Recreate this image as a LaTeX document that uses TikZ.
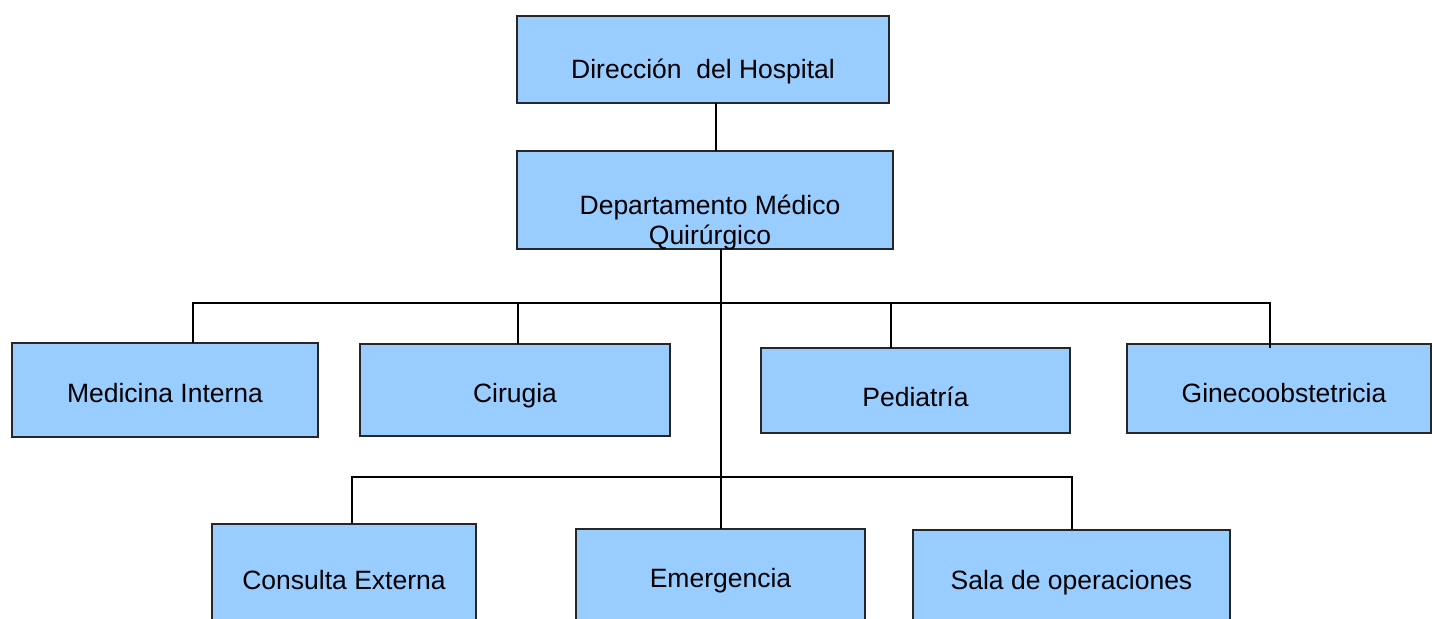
\documentclass[tikz,border=0pt]{standalone}
\usepackage{fontspec}
\setmainfont{Liberation Sans}
\usepackage{tikz}
\usetikzlibrary{calc}
\definecolor{boxblue}{RGB}{153,204,255}

\begin{document}
\begin{tikzpicture}[x=0.5pt,y=-0.5pt,
    unit/.style={draw=black!85, line width=0.75pt, fill=boxblue, rectangle, inner sep=0pt, outer sep=0pt},
    link/.style={line width=1pt, black},
    every label/.style={font=\fontsize{13.25pt}{15pt}\selectfont, align=center, inner sep=0pt}]
                      \useasboundingbox (0,0) rectangle (1432,618);
                      \fill[white] (0,0) rectangle (1432,618);
                      \clip (0,0) rectangle (1432,618);
                      % top levels
                      \node[unit, minimum width=186pt, minimum height=43.5pt, label={[yshift=-5.75pt]center:Dirección\ \ del Hospital}] (dir) at (703,59.5) {};
                      \node[unit, minimum width=188pt, minimum height=49pt, label={[xshift=2.5pt, yshift=-11pt]center:Departamento Médico\\Quirúrgico}] (dep) at (705,200) {};
                      % services
                      \node[unit, minimum width=153pt, minimum height=47pt, label={[yshift=-1.5pt]center:Medicina Interna}] (med) at (165,390) {};
                      \node[unit, minimum width=155pt, minimum height=46pt, label={[yshift=-3pt]center:Cirugia}] (cir) at (515,390) {};
                      \node[unit, minimum width=154.5pt, minimum height=42.5pt, label={[yshift=-3pt]center:Pediatría}] (ped) at (915.5,390.5) {};
                      \node[unit, minimum width=152pt, minimum height=44.5pt, label={[xshift=2.5pt, yshift=-2.25pt]center:Ginecoobstetricia}] (gin) at (1279,388.5) {};
                      % units
                      \node[unit, minimum width=132pt, minimum height=58pt, label={[yshift=1pt]center:Consulta Externa}] (con) at (344,582) {};
                      \node[unit, minimum width=144.5pt, minimum height=55.5pt, label={[yshift=1.75pt]center:Emergencia}] (eme) at (720.5,584.5) {};
                      \node[unit, minimum width=158.5pt, minimum height=55pt, label={[yshift=1pt]center:Sala de operaciones}] (sal) at (1071.5,585) {};
                      % joints
                      \coordinate (top) at (716,0);
                      \coordinate (a) at (193,303);
                      \coordinate (b) at (518,303);
                      \coordinate (c) at (891,303);
                      \coordinate (d) at (1270,303);
                      \coordinate (e) at (352,477);
                      \coordinate (f) at (1072,477);
                      % connectors
                      \draw[link] (top |- dir.south) -- (top |- dep.north);
                      \draw[link] (eme.north |- dep.south) -- (eme.north);
                      \draw[link] (a |- med.north) -- (a) -- (d) -- ($(d |- gin.north)+(0,4)$);
                      \draw[link] (b) -- (b |- cir.north);
                      \draw[link] (c) -- (c |- ped.north);
                      \draw[link] (e |- con.north) -- (e) -- (f) -- (f |- sal.north);
                  \end{tikzpicture}
\end{document}
